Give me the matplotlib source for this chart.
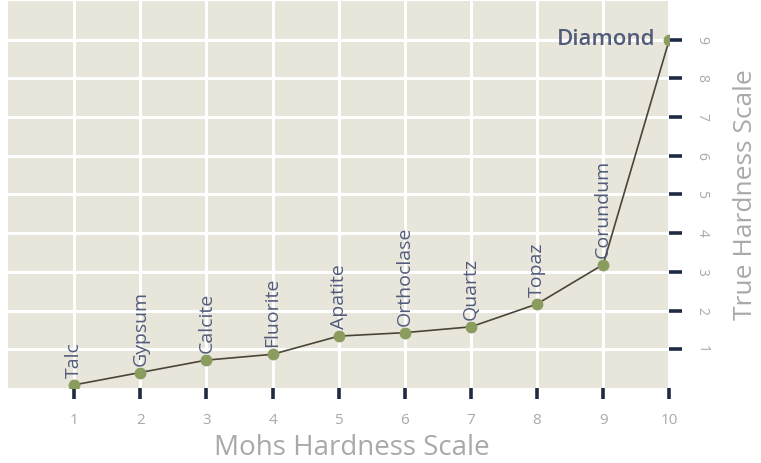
import matplotlib
matplotlib.use("Agg")
import matplotlib.pyplot as plt

# Mohs vs true (absolute) hardness
minerals = ["Talc", "Gypsum", "Calcite", "Fluorite", "Apatite",
            "Orthoclase", "Quartz", "Topaz", "Corundum", "Diamond"]
mohs = [1, 2, 3, 4, 5, 6, 7, 8, 9, 10]
true_hardness = [0.08, 0.4, 0.72, 0.87, 1.34, 1.43, 1.58, 2.17, 3.19, 9.0]
y_ticks = [1, 2, 3, 4, 5, 6, 7, 8, 9]

plt.rcParams["font.family"] = ["Open Sans", "DejaVu Sans"]

bg = "#e8e5da"
navy = "#1f2a44"
label_col = "#515c7b"
grey = "#a9a9a9"
green = "#8a9c5e"

fig = plt.figure(figsize=(7.61, 4.63), dpi=100)
ax = fig.add_axes([0.0105, 0.162, 0.869, 0.836])
ax.set_facecolor(bg)

ax.set_xlim(0, 10)
ax.set_ylim(0, 10)
ax.set_xticks(mohs)
ax.set_yticks(y_ticks)
ax.grid(True, color="white", linewidth=2.2)
ax.set_axisbelow(True)
for s in ax.spines.values():
    s.set_visible(False)

ax.plot(mohs, true_hardness, color="#4a4536", linewidth=1.2, zorder=3)
ax.plot(mohs, true_hardness, "o", color=green, markersize=7.5, zorder=4)

for name, x, y in zip(minerals[:-1], mohs[:-1], true_hardness[:-1]):
    ax.annotate(name, (x, y), xytext=(0, 5), textcoords="offset points",
                rotation=90, ha="center", va="bottom", fontsize=14,
                color=label_col, zorder=5)
ax.annotate(minerals[-1], (mohs[-1], true_hardness[-1]), xytext=(-10, 0),
            textcoords="offset points", ha="right", va="center",
            fontsize=16, fontweight="semibold", color=label_col, zorder=5)

ax.yaxis.tick_right()
ax.yaxis.set_label_position("right")
ax.tick_params(axis="y", length=9, width=2.6, color=navy, labelcolor=grey,
               labelsize=10, pad=9, labelrotation=-90)
for lab in ax.get_yticklabels():
    lab.set_va("center")
ax.tick_params(axis="x", length=8, width=2.6, color=navy, labelcolor=grey,
               labelsize=11, pad=10)

ax.set_xlabel("Mohs Hardness Scale", fontsize=20, color=grey)
ax.xaxis.set_label_coords(0.52, -0.118)
ax.set_ylabel("True Hardness Scale", fontsize=19, color=grey)
ax.yaxis.set_label_coords(1.097, 0.5)

fig.savefig("out.png", dpi=100, facecolor="white")
